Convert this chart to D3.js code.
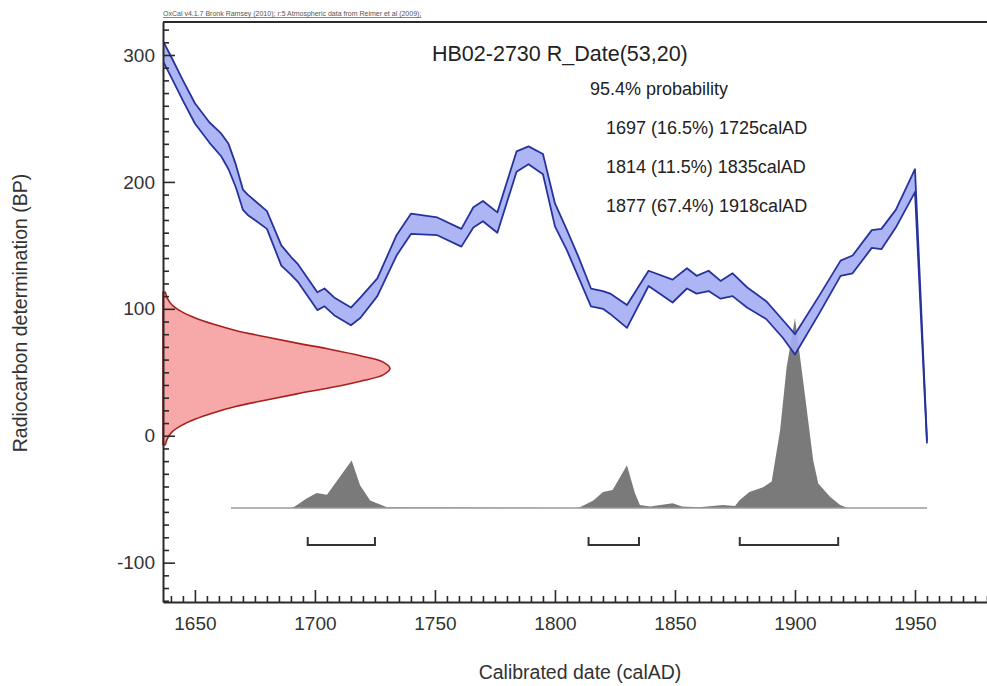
<!DOCTYPE html>
<html>
<head>
<meta charset="utf-8">
<script src="https://cdn.jsdelivr.net/npm/d3@7"></script>
<style>
body { margin: 0; background: #fff; }
svg { display: block; font-family: "Liberation Sans", Arial, sans-serif; }
.axis path, .axis line { stroke: #2a2a2a; }
.axis path { stroke-width: 2; }
.axis line { stroke-width: 1.6; }
.axis text { fill: #333; font-size: 19px; }
</style>
</head>
<body>
<svg id="oxcal" width="987" height="686"></svg>
<script>
// oxcal calibration plot

// calibration curve (calAD, BP mean, 1 sigma)
var calYear = [1637, 1640, 1645, 1650, 1656, 1661, 1664, 1667, 1670, 1672, 1680, 1686, 1690, 1693,
    1701, 1704, 1708, 1715, 1719, 1726, 1734, 1740, 1751, 1761, 1766, 1770, 1776, 1784, 1789,
    1795, 1800, 1805, 1810, 1815, 1820, 1823, 1830, 1839, 1849, 1855, 1859, 1864, 1869, 1874,
    1880, 1888, 1895, 1900, 1910, 1919, 1924, 1932, 1936, 1942, 1950, 1955];
var bpMean = [302, 291, 272, 254, 239, 229, 220, 205, 186, 182, 170, 142, 134, 128,
    106, 109, 102, 94, 101, 117, 150, 167, 165, 156, 172, 177, 168, 216, 221,
    214, 174, 154, 132, 109, 107, 104, 94, 124, 114, 124, 119, 122, 115, 119,
    109, 99, 84, 72, 103, 132, 135, 155, 155, 171, 201, -5];
var bpSigma = [8, 8, 8, 8, 8, 9, 10, 9, 8, 8, 7, 8, 7, 7,
    7, 7, 7, 7, 8, 7, 8, 8, 7, 7, 8, 8, 8, 8, 7,
    8, 9, 8, 8, 7, 7, 8, 9, 6, 9, 8, 7, 8, 7, 9,
    8, 7, 7, 8, 7, 6, 7, 7, 8, 7, 9, 1];

// measurement R_Date(53,20), relative density
var measBP = [-7, -2, 3, 8, 13, 18, 23, 28, 33, 38, 43, 48, 53, 58, 63, 68, 73, 78, 83, 88, 93, 98, 103, 108, 113];
var measDens = [0.01, 0.02, 0.04, 0.08, 0.14, 0.22, 0.32, 0.45, 0.59, 0.74, 0.87, 0.97, 1,
    0.97, 0.87, 0.74, 0.59, 0.45, 0.32, 0.22, 0.14, 0.08, 0.04, 0.02, 0.01];

// calibrated probability
var probYear = [1665, 1690, 1691, 1693, 1696.5, 1700.7, 1705, 1715.3, 1718.8, 1723, 1730,
    1809, 1810.4, 1816, 1820, 1824, 1830, 1833.3, 1835.4, 1839.6, 1844, 1849, 1853, 1860,
    1870, 1875, 1877, 1881, 1886.7, 1890.3, 1893.8, 1896.5, 1900, 1903.5, 1907.6, 1909.7,
    1914.6, 1918.8, 1922, 1955];
var probDens = [0, 0, 0.005, 0.02, 0.05, 0.08, 0.07, 0.25, 0.12, 0.04, 0.005,
    0, 0.005, 0.04, 0.085, 0.095, 0.225, 0.08, 0.016, 0.008, 0.016, 0.026, 0.008, 0.005,
    0.016, 0.011, 0.042, 0.085, 0.11, 0.14, 0.41, 0.74, 1, 0.66, 0.25, 0.13,
    0.06, 0.016, 0, 0];

// 95.4% ranges
var rangeFrom = [1697, 1814, 1877],
    rangeTo = [1725, 1835, 1918],
    rangePct = ["16.5%", "11.5%", "67.4%"];

var xTicks = [1650, 1700, 1750, 1800, 1850, 1900, 1950],
    yTicks = [-100, 0, 100, 200, 300];

var svg = d3.select("#oxcal");

// scales
var x = d3.scaleLinear().domain([1636.7, 1980]).range([163, 987]),
    y = d3.scaleLinear().domain([-131, 326]).range([602, 22]);

var probBase = -57,   // BP level of the probability baseline
    bracketBP = -86;  // BP level of the range brackets

var pY = d3.scaleLinear().domain([0, 1]).range([y(probBase), y(probBase) - 190]),
    pX = d3.scaleLinear().domain([0, 1]).range([x.range()[0], x.range()[0] + 227]);

// calibrated distribution
var prob = probYear.map(function(d, i) { return {year: d, p: probDens[i]}; });

svg.append("path")
    .datum(prob)
    .attr("fill", "#7a7a7a")
    .attr("d", d3.area()
        .x(function(d) { return x(d.year); })
        .y0(pY(0))
        .y1(function(d) { return pY(d.p); }));

svg.append("line")
    .attr("x1", x(probYear[0]))
    .attr("x2", x(probYear[probYear.length - 1]))
    .attr("y1", pY(0))
    .attr("y2", pY(0))
    .attr("stroke", "#9a9a9a")
    .attr("stroke-width", 1.5);

// measurement on the y axis
var meas = measBP.map(function(d, i) { return {bp: d, p: measDens[i]}; });

svg.append("path")
    .datum(meas)
    .attr("fill", "#f7a8a8")
    .attr("stroke", "#a8201e")
    .attr("stroke-width", 1.6)
    .attr("d", d3.area()
        .curve(d3.curveCatmullRom)
        .y(function(d) { return y(d.bp); })
        .x0(pX(0))
        .x1(function(d) { return pX(d.p); }));

// calibration band
var curve = calYear.map(function(d, i) { return {year: d, bp: bpMean[i], sd: bpSigma[i]}; });

svg.append("path")
    .datum(curve)
    .attr("fill", "#a4adf3")
    .attr("fill-opacity", 0.9)
    .attr("d", d3.area()
        .x(function(d) { return x(d.year); })
        .y0(function(d) { return y(d.bp - d.sd); })
        .y1(function(d) { return y(d.bp + d.sd); }));

[1, -1].forEach(function(s) {
    svg.append("path")
        .datum(curve)
        .attr("fill", "none")
        .attr("stroke", "#26339c")
        .attr("stroke-width", 1.8)
        .attr("stroke-linejoin", "round")
        .attr("d", d3.line()
            .x(function(d) { return x(d.year); })
            .y(function(d) { return y(d.bp + s * d.sd); }));
});

// range brackets
var yb = y(bracketBP);
svg.selectAll(".bracket")
    .data(rangeFrom)
    .enter()
    .append("path")
    .attr("class", "bracket")
    .attr("fill", "none")
    .attr("stroke", "#333")
    .attr("stroke-width", 2)
    .attr("d", function(d, i) {
        return "M" + x(d) + "," + (yb - 8) + "V" + yb + "H" + x(rangeTo[i]) + "V" + (yb - 8);
    });

// axes
var xMinor = d3.range(1640, 1981, 5).filter(function(d) { return xTicks.indexOf(d) < 0; }),
    yMinor = d3.range(-130, 321, 10).filter(function(d) { return yTicks.indexOf(d) < 0; });

svg.append("g")
    .attr("class", "axis axis--x")
    .attr("transform", "translate(0," + y.range()[0] + ")")
    .call(d3.axisBottom(x).tickValues(xMinor).tickSize(-6).tickSizeOuter(0).tickFormat(""))
    .call(function(g) { g.select(".domain").remove(); });

svg.append("g")
    .attr("class", "axis axis--x")
    .attr("transform", "translate(0," + y.range()[0] + ")")
    .call(d3.axisBottom(x).tickValues(xTicks).tickSize(-12).tickSizeOuter(0).tickPadding(15)
        .tickFormat(function(d) { return String(d); }));

svg.append("g")
    .attr("class", "axis axis--y")
    .attr("transform", "translate(" + x.range()[0] + ",0)")
    .call(d3.axisLeft(y).tickValues(yMinor).tickSize(-6).tickSizeOuter(0).tickFormat(""))
    .call(function(g) { g.select(".domain").remove(); });

svg.append("g")
    .attr("class", "axis axis--y")
    .attr("transform", "translate(" + x.range()[0] + ",0)")
    .call(d3.axisLeft(y).tickValues(yTicks).tickSize(-12).tickSizeOuter(0).tickPadding(8)
        .tickFormat(function(d) { return String(d); }));

// top frame
svg.append("line")
    .attr("x1", x.range()[0])
    .attr("x2", x.range()[1])
    .attr("y1", y.range()[1])
    .attr("y2", y.range()[1])
    .attr("stroke", "#2a2a2a")
    .attr("stroke-width", 2);

// labels
svg.append("text")
    .attr("x", 163)
    .attr("y", 16)
    .attr("font-size", 7)
    .attr("fill", "#555")
    .attr("text-decoration", "underline")
    .text("OxCal v4.1.7 Bronk Ramsey (2010); r:5 Atmospheric data from Reimer et al (2009);");

svg.append("text")
    .attr("x", 432)
    .attr("y", 61)
    .attr("font-size", 21.5)
    .attr("fill", "#222")
    .text("HB02-2730 R_Date(53,20)");

svg.append("text")
    .attr("x", 590)
    .attr("y", 95)
    .attr("font-size", 18)
    .attr("fill", "#222")
    .text("95.4% probability");

svg.selectAll(".range-label")
    .data(rangeFrom)
    .enter()
    .append("text")
    .attr("class", "range-label")
    .attr("x", 606)
    .attr("y", function(d, i) { return 134 + i * 39; })
    .attr("font-size", 18)
    .attr("fill", "#222")
    .text(function(d, i) { return d + " (" + rangePct[i] + ") " + rangeTo[i] + "calAD"; });

svg.append("text")
    .attr("x", 580)
    .attr("y", 679)
    .attr("text-anchor", "middle")
    .attr("font-size", 19.5)
    .attr("fill", "#333")
    .text("Calibrated date (calAD)");

svg.append("text")
    .attr("transform", "translate(27,313) rotate(-90)")
    .attr("text-anchor", "middle")
    .attr("font-size", 19.5)
    .attr("fill", "#333")
    .text("Radiocarbon determination (BP)");
</script>
</body>
</html>
